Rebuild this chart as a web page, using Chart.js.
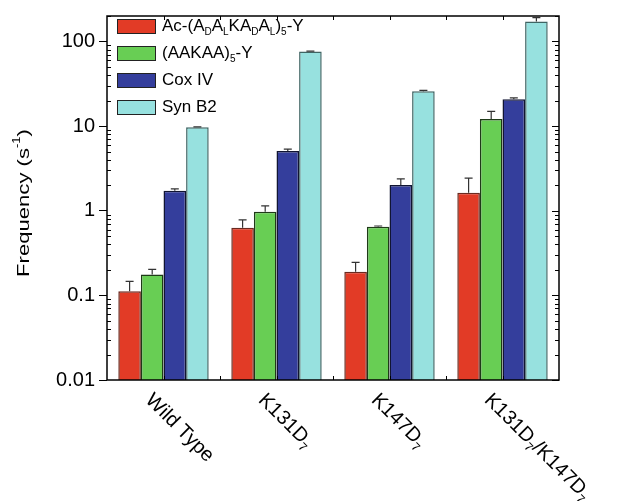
<!DOCTYPE html>
<html>
<head>
<meta charset="utf-8">
<script src="https://cdn.jsdelivr.net/npm/chart.js@4"></script>
<style>
  body { margin: 0; background: #fff; }
  #wrap { width: 617px; height: 501px; }
</style>
</head>
<body>
<div id="wrap"><canvas id="freqChart"></canvas></div>
<script>
const categories = ["Wild Type", "K131D7", "K147D7", "K131D7/K147D7"];
const peptideVals = [0.112, 0.63, 0.19, 1.63];
const peptideErr = [0.034, 0.15, 0.055, 0.8];
const aakaaVals = [0.177, 0.97, 0.648, 12.1];
const aakaaErr = [0.026, 0.17, 0.012, 2.8];
const coxVals = [1.72, 5.08, 2.02, 20.8];
const coxErr = [0.09, 0.27, 0.36, 0.7];
const synVals = [9.7, 76, 25.8, 172];
const synErr = [0.1, 0.8, 0.6, 19];
const yTicks = [0.01, 0.1, 1, 10, 100];

const FONT = "Liberation Sans, Arial, sans-serif";

// rich text pieces: [text, "sub" | "sup" | ""]
const legendRich = [
    [["Ac-(A", ""], ["D", "sub"], ["A", ""], ["L", "sub"], ["KA", ""], ["D", "sub"], ["A", ""], ["L", "sub"], [")", ""], ["5", "sub"], ["-Y", ""]],
    [["(AAKAA)", ""], ["5", "sub"], ["-Y", ""]],
    [["Cox IV", ""]],
    [["Syn B2", ""]]
];
const catRich = [
    [["Wild Type", ""]],
    [["K131D", ""], ["7", "sub"]],
    [["K147D", ""], ["7", "sub"]],
    [["K131D", ""], ["7", "sub"], ["/K147D", ""], ["7", "sub"]]
];

function drawRich(ctx, parts, x, y, size) {
    let cx = x;
    parts.forEach(([t, kind]) => {
        if (kind) {
            ctx.font = Math.round(size * 0.6) + "px " + FONT;
            ctx.fillText(t, cx, y + (kind === "sub" ? size * 0.35 : -size * 0.4));
        } else {
            ctx.font = size + "px " + FONT;
            ctx.fillText(t, cx, y);
        }
        cx += ctx.measureText(t).width;
    });
    return cx - x;
}

function richWidth(ctx, parts, size) {
    let w = 0;
    parts.forEach(([t, k]) => {
        ctx.font = (k ? Math.round(size * 0.6) : size) + "px " + FONT;
        w += ctx.measureText(t).width;
    });
    return w;
}

const extras = {
    id: "extras",
    afterDatasetsDraw(chart) {
        const ctx = chart.ctx;
        const y = chart.scales.y;
        const errs = [peptideErr, aakaaErr, coxErr, synErr];
        ctx.save();
        ctx.strokeStyle = "#333";
        ctx.lineWidth = 1.2;
        chart.data.datasets.forEach((ds, di) => {
            chart.getDatasetMeta(di).data.forEach((bar, i) => {
                const top = y.getPixelForValue(ds.data[i] + errs[di][i]);
                ctx.beginPath();
                ctx.moveTo(bar.x, bar.y);
                ctx.lineTo(bar.x, top);
                ctx.moveTo(bar.x - 4, top);
                ctx.lineTo(bar.x + 4, top);
                ctx.stroke();
            });
        });
        ctx.restore();
    },
    afterDraw(chart) {
        const ctx = chart.ctx;
        const a = chart.chartArea;
        const y = chart.scales.y;
        ctx.save();
        ctx.strokeStyle = "#000";
        ctx.lineWidth = 1.5;
        ctx.strokeRect(a.left, a.top, a.right - a.left, a.bottom - a.top);

        // minor log ticks on left and right
        ctx.lineWidth = 1;
        for (let d = 0.01; d < 200; d *= 10) {
            for (let m = 2; m <= 9; m++) {
                const v = d * m;
                if (v > 200) break;
                const p = Math.round(y.getPixelForValue(v)) + 0.5;
                ctx.beginPath();
                ctx.moveTo(a.left, p); ctx.lineTo(a.left + 4, p);
                ctx.moveTo(a.right, p); ctx.lineTo(a.right - 4, p);
                ctx.stroke();
            }
        }
        yTicks.forEach(v => {
            const p = Math.round(y.getPixelForValue(v)) + 0.5;
            ctx.beginPath();
            ctx.moveTo(a.right, p); ctx.lineTo(a.right - 7, p);
            ctx.stroke();
        });
        // x ticks at centres and boundaries, bottom and top
        const step = (a.right - a.left) / 8;
        for (let i = 1; i < 8; i++) {
            const px = Math.round(a.left + i * step) + 0.5;
            ctx.beginPath();
            ctx.moveTo(px, a.bottom); ctx.lineTo(px, a.bottom - 4);
            ctx.moveTo(px, a.top); ctx.lineTo(px, a.top + 4);
            ctx.stroke();
        }

        // legend
        const cols = chart.data.datasets.map(d => d.backgroundColor);
        ctx.textBaseline = "middle";
        ctx.fillStyle = "#000";
        legendRich.forEach((parts, i) => {
            const cy = 26 + i * 27;
            ctx.fillStyle = cols[i];
            ctx.fillRect(117, cy - 7, 38, 14);
            ctx.strokeStyle = "#222";
            ctx.strokeRect(117.5, cy - 6.5, 38, 14);
            ctx.fillStyle = "#000";
            drawRich(ctx, parts, 162, cy, 17);
        });

        // category labels rotated clockwise
        const xs = chart.scales.x;
        catRich.forEach((parts, i) => {
            const cx = xs.getPixelForValue(i);
            ctx.save();
            ctx.translate(cx - 15, a.bottom + 17);
            ctx.rotate(Math.PI / 4);
            ctx.textAlign = "left";
            drawRich(ctx, parts, 0, 0, 20);
            ctx.restore();
        });

        // y title, slightly stretched like the original
        ctx.save();
        ctx.translate(24, (a.top + a.bottom) / 2 + 5);
        ctx.rotate(-Math.PI / 2);
        ctx.scale(1.3, 1);
        const parts = [["Frequency (s", ""], ["-1", "sup"], [")", ""]];
        const w = richWidth(ctx, parts, 17);
        drawRich(ctx, parts, -w / 2, 0, 17);
        ctx.restore();
        ctx.restore();
    }
};

new Chart(document.getElementById("freqChart"), {
    type: "bar",
    data: {
        labels: categories,
        datasets: [
            { label: "Ac-(ADALKADAL)5-Y", data: peptideVals, backgroundColor: "#E23B26", borderColor: "#6a2a20" },
            { label: "(AAKAA)5-Y", data: aakaaVals, backgroundColor: "#68CE54", borderColor: "#1f3a18" },
            { label: "Cox IV", data: coxVals, backgroundColor: "#343E9C", borderColor: "#111533" },
            { label: "Syn B2", data: synVals, backgroundColor: "#97E1DF", borderColor: "#3f6463" }
        ].map(d => Object.assign(d, { borderWidth: 1.5, categoryPercentage: 0.8, barPercentage: 1 }))
    },
    options: {
        responsive: true,
        maintainAspectRatio: false,
        animation: false,
        layout: { padding: { left: 0, top: 15, right: 58, bottom: 0 } },
        plugins: { legend: { display: false }, tooltip: { enabled: false } },
        scales: {
            x: {
                ticks: { display: false },
                grid: { display: false },
                border: { display: false },
                afterFit: s => { s.height = 121; }
            },
            y: {
                type: "logarithmic",
                min: 0.01,
                max: 200,
                afterBuildTicks: s => { s.ticks = yTicks.map(v => ({ value: v })); },
                afterFit: s => { s.width = 107; },
                ticks: {
                    color: "#000",
                    font: { family: FONT, size: 20 },
                    padding: 4,
                    callback: v => String(v)
                },
                grid: { drawOnChartArea: false, color: "#000", tickLength: 8 },
                border: { display: false }
            }
        }
    },
    plugins: [extras]
});
</script>
</body>
</html>
